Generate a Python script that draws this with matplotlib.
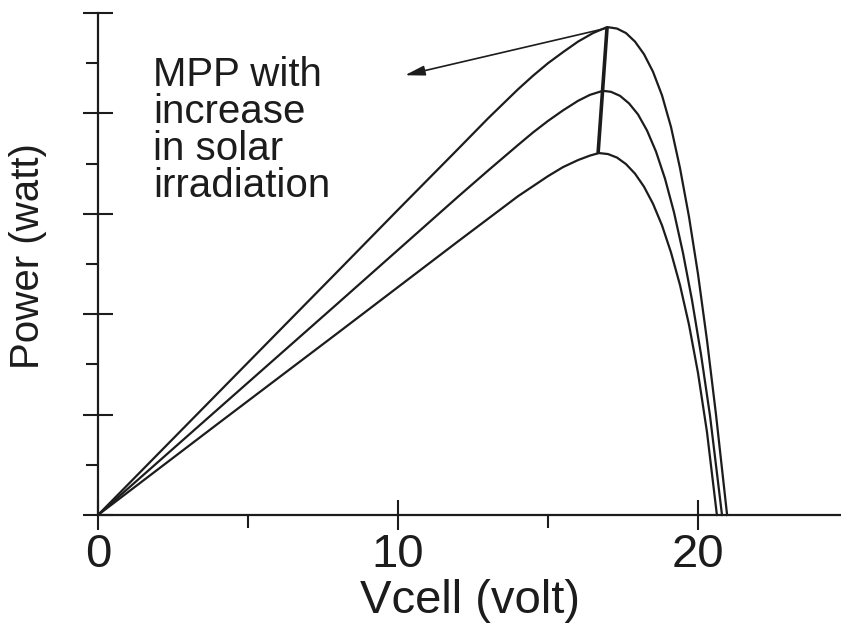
import matplotlib
matplotlib.use("Agg")
import matplotlib.pyplot as plt

plt.rcParams['font.family'] = ['Liberation Sans', 'DejaVu Sans']

# ---- data ----
v_high = [0, 4, 8, 10, 12, 13.0, 14.0, 14.5, 15.0, 15.5, 16.0, 16.5, 16.97, 17.3, 17.6, 17.9,
          18.2, 18.5, 18.8, 19.1, 19.4, 19.7, 20.0, 20.3, 20.6, 20.97]
p_high = [0, 24.3, 48.6, 60.8, 72.9, 79.0, 84.8, 87.5, 90.0, 92.2, 94.3, 96.0, 97.2, 96.9, 96.0, 94.3,
          91.8, 88.3, 83.6, 77.3, 69.1, 59.4, 48.0, 34.8, 20.0, 0]

v_mid = [0, 4, 8, 10, 12, 13.0, 14.0, 14.5, 15.0, 15.5, 16.0, 16.4, 16.83, 17.1, 17.4, 17.7,
         18.0, 18.3, 18.6, 18.9, 19.2, 19.5, 19.8, 20.1, 20.4, 20.8]
p_mid = [0, 21.1, 42.2, 52.8, 63.4, 68.6, 73.7, 76.2, 78.5, 80.6, 82.5, 83.7, 84.5, 84.3, 83.5, 82.0,
         79.8, 76.6, 72.4, 67.0, 60.3, 52.2, 42.8, 32.0, 19.8, 0]

v_low = [0, 4, 8, 10, 12, 13.0, 14.0, 14.5, 15.0, 15.5, 16.0, 16.4, 16.7, 17.0, 17.3, 17.6,
         17.9, 18.2, 18.5, 18.8, 19.1, 19.4, 19.7, 20.0, 20.3, 20.63]
p_low = [0, 18.2, 36.3, 45.4, 54.5, 59.0, 63.5, 65.5, 67.5, 69.3, 70.7, 71.6, 72.1, 71.9, 71.2, 69.9,
         68.0, 65.4, 62.0, 57.7, 52.3, 45.8, 37.9, 28.3, 16.5, 0]

mpp_v = [16.97, 16.67]
mpp_p = [97.2, 72.1]

arrow_tail = (16.97, 97.0)
arrow_head = (10.23, 87.6)

x_major = [0, 10, 20]
x_minor = [5, 15]
y_major = [0, 20, 40, 60, 80, 100]
y_minor = [10, 30, 50, 70, 90]

annotation = "MPP with\nincrease\nin solar\nirradiation"

# ---- figure ----
W, H = 841, 629
fig = plt.figure(figsize=(W / 100, H / 100), dpi=100)
ax = fig.add_axes([98 / W, (H - 515) / H, 743 / W, 502 / H])
ax.set_xlim(0, 743 / 30)
ax.set_ylim(0, 100)

ink = '#1c1c1c'
for v, p in [(v_high, p_high), (v_mid, p_mid), (v_low, p_low)]:
    ax.plot(v, p, color=ink, lw=1.6, solid_joinstyle='round', clip_on=False)

ax.plot(mpp_v, mpp_p, color=ink, lw=2.6, solid_capstyle='butt')

ax.annotate('', xy=arrow_head, xytext=arrow_tail,
            arrowprops=dict(arrowstyle='-|>,head_length=1.2,head_width=0.3',
                            color=ink, lw=1.2, shrinkA=0, shrinkB=0))

ax.text(1.83, 91.5, annotation, fontsize=29, va='top', ha='left',
        linespacing=0.97, color=ink)

for s in ['top', 'right']:
    ax.spines[s].set_visible(False)
for s in ['left', 'bottom']:
    ax.spines[s].set_linewidth(1.6)
    ax.spines[s].set_color(ink)

ax.set_xticks(x_major)
ax.set_xticks(x_minor, minor=True)
ax.set_yticks(y_major)
ax.set_yticks(y_minor, minor=True)
ax.set_xticklabels([str(t) for t in x_major])
ax.set_yticklabels([])
ax.tick_params(which='major', direction='inout', length=22, width=1.5, color=ink,
               labelsize=34, labelcolor=ink, pad=2)
ax.tick_params(which='minor', direction='out', length=9, width=1.5, color=ink)

ax.set_xlabel('Vcell (volt)', fontsize=34, color=ink)
ax.xaxis.set_label_coords(0.5, -0.128)
ax.set_ylabel('Power (watt)', fontsize=29, color=ink)
ax.yaxis.set_label_coords(-0.068, 0.515)

fig.savefig('out.png', dpi=100, facecolor='white')
